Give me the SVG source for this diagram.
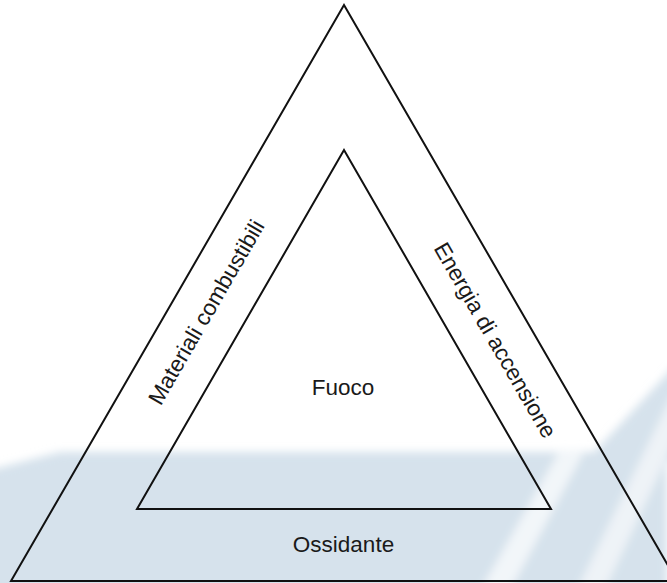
<svg xmlns="http://www.w3.org/2000/svg" width="667" height="583" viewBox="0 0 667 583">
  <defs>
    <filter id="soft" x="-10%" y="-10%" width="120%" height="120%">
      <feGaussianBlur stdDeviation="4"/>
    </filter>
    <style>
      .tri { fill: none; stroke: #111; stroke-width: 2; stroke-linejoin: miter; }
      .lbl { font-family: "Liberation Sans", Arial, sans-serif; font-size: 22.5px; fill: #1a1a1a; text-anchor: middle; }
    </style>
  </defs>
  <rect x="0" y="0" width="667" height="583" fill="#ffffff"/>
  <g id="background" filter="url(#soft)">
    <polygon points="-10,470 60,452 667,452 667,600 -10,600" fill="#d6e2ec"/>
    <polygon points="585,462 680,360 680,462" fill="#d6e2ec"/>
    <polygon points="560,450 585,450 505,600 475,600" fill="#f2f6f9"/>
    <polygon points="672,395 680,395 680,430 600,600 572,600" fill="#eef3f7"/>
  </g>
  <g id="outer">
    <polygon class="tri" points="344,5 11,581 677,581"/>
  </g>
  <g id="inner">
    <polygon class="tri" points="344,150 137,509 551,509"/>
  </g>
  <g id="label-fuoco">
    <text class="lbl" x="343" y="395">Fuoco</text>
  </g>
  <g id="label-ossidante">
    <text class="lbl" x="343.5" y="552">Ossidante</text>
  </g>
  <g id="label-materiali">
    <text class="lbl" transform="translate(206,312) rotate(-60)" x="0" y="8">Materiali combustibili</text>
  </g>
  <g id="label-energia">
    <text class="lbl" transform="translate(495.5,340) rotate(60)" x="0" y="8">Energia di accensione</text>
  </g>
  <g id="connectors"></g>
</svg>
